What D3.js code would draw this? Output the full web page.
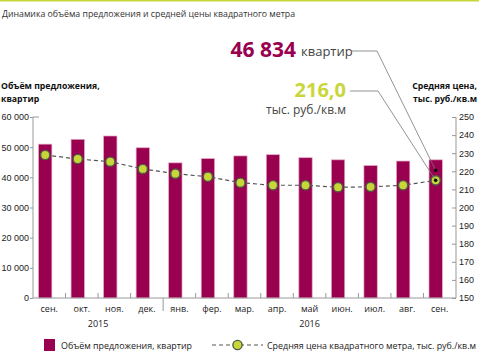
<!DOCTYPE html>
<html>
<head>
<meta charset="utf-8">
<script src="https://cdn.jsdelivr.net/npm/d3@7"></script>
<style>
  body { margin: 0; background: #fff; }
  svg { font-family: "Open Sans", "Noto Sans", sans-serif; }
</style>
</head>
<body>
<div id="graphic"></div>
<script>
// data
const months = ["сен.", "окт.", "ноя.", "дек.", "янв.", "фер.", "мар.", "апр.", "май", "июн.", "июл.", "авг.", "сен."];
const years = [{label: "2015", from: 0, to: 3}, {label: "2016", from: 4, to: 12}];
const supply = [51000, 52600, 53700, 49800, 44800, 46200, 47100, 47500, 46500, 45800, 43900, 45400, 45800];
const price = [229.0, 226.8, 225.3, 221.3, 218.7, 217.0, 213.7, 212.3, 212.3, 211.2, 211.4, 212.3, 215.0];
const leftTicks = [0, 10000, 20000, 30000, 40000, 50000, 60000];
const rightTicks = [150, 160, 170, 180, 190, 200, 210, 220, 230, 240, 250];

const W = 479, H = 352;
const barColor = "#990050";
const green = "#c8d639";
const fs = "9px";

const svg = d3.select("#graphic").append("svg")
    .attr("width", W)
    .attr("height", H);

// green rule at the top
svg.append("rect").attr("x", 0).attr("y", 0).attr("width", W).attr("height", 1.5).style("fill", green);

svg.append("text")
    .attr("x", 2).attr("y", 17)
    .attr("textLength", 293).attr("lengthAdjust", "spacingAndGlyphs")
    .style("font-size", "9px").style("fill", "#333")
    .text("Динамика объёма предложения и средней цены квадратного метра");

// scales
const x = d3.scaleBand()
    .domain(d3.range(months.length))
    .range([33, 456]);

const yL = d3.scaleLinear().domain([0, 60000]).range([298, 117]);
const yR = d3.scaleLinear().domain([150, 250]).range([298, 117]);

const step = x.step();
const barW = step * 0.41;
const barOff = step * 0.17;
const cx = i => x(i) + barOff + barW / 2;

// bars
svg.append("g").selectAll("rect")
    .data(supply)
    .join("rect")
    .attr("x", (d, i) => x(i) + barOff)
    .attr("y", d => yL(d))
    .attr("width", barW)
    .attr("height", d => yL(0) - yL(d))
    .style("fill", barColor)
    .style("stroke", "#e3a6c4")
    .style("stroke-width", 0.7);

// left axis
const fmt = d => d === 0 ? "0" : d3.format(",")(d).replace(",", " ");
const gL = svg.append("g")
    .attr("transform", "translate(33,0)")
    .call(d3.axisLeft(yL).tickValues(leftTicks).tickFormat(fmt).tickSize(3).tickPadding(1));
gL.select(".domain").remove();
gL.selectAll("line").style("stroke", "#999");
gL.selectAll("text").style("font-size", fs).style("fill", "#222").attr("font-family", null);
svg.append("line").attr("x1", 33).attr("x2", 33).attr("y1", 117).attr("y2", 298).style("stroke", "#999");
svg.append("line").attr("x1", 33).attr("x2", 39).attr("y1", 117).attr("y2", 117).style("stroke", "#999");

// right axis
const gR = svg.append("g")
    .attr("transform", "translate(456,0)")
    .call(d3.axisRight(yR).tickValues(rightTicks).tickSize(-4).tickPadding(3));
gR.select(".domain").remove();
gR.selectAll("line").style("stroke", "#999");
gR.selectAll("text").style("font-size", fs).style("fill", "#222").attr("font-family", null);
svg.append("line").attr("x1", 456).attr("x2", 456).attr("y1", 117).attr("y2", 298).style("stroke", "#999");

// bottom axis
svg.append("line").attr("x1", 33).attr("x2", 456).attr("y1", 298).attr("y2", 298).style("stroke", "#999");
svg.append("g").selectAll("line")
    .data(d3.range(1, months.length))
    .join("line")
    .attr("x1", i => x(i)).attr("x2", i => x(i))
    .attr("y1", i => i === 4 ? 298 : 293)
    .attr("y2", i => i === 4 ? 311 : 298)
    .style("stroke", "#999");

svg.append("g").selectAll("text")
    .data(months)
    .join("text")
    .attr("x", (d, i) => x(i) + step / 2)
    .attr("y", 312)
    .attr("text-anchor", "middle")
    .style("font-size", fs).style("fill", "#222")
    .text(d => d);

svg.append("g").selectAll("text")
    .data(years)
    .join("text")
    .attr("x", d => (x(d.from) + x(d.to) + step) / 2)
    .attr("y", 327)
    .attr("text-anchor", "middle")
    .style("font-size", fs).style("fill", "#222")
    .text(d => d.label);

// price line
const line = d3.line().x((d, i) => cx(i)).y(d => yR(d));
svg.append("path")
    .datum(price)
    .attr("d", line)
    .style("fill", "none")
    .style("stroke", "#555")
    .style("stroke-width", 1.2)
    .style("stroke-dasharray", "4,3");

svg.append("g").selectAll("circle")
    .data(price)
    .join("circle")
    .attr("cx", (d, i) => cx(i))
    .attr("cy", d => yR(d))
    .attr("r", 4.6)
    .style("fill", green)
    .style("stroke", "#4d5e45")
    .style("stroke-width", 1.4);

// axis titles
const titleL = svg.append("text").attr("x", 1).attr("y", 89)
    .style("font-size", "8.7px").style("font-weight", "bold").style("fill", "#111");
titleL.append("tspan").attr("x", 1).text("Объём предложения,");
titleL.append("tspan").attr("x", 1).attr("dy", 13).text("квартир");

const titleR = svg.append("text").attr("x", 477).attr("y", 89).attr("text-anchor", "end")
    .style("font-size", "8.7px").style("font-weight", "bold").style("fill", "#111");
titleR.append("tspan").attr("x", 477).text("Средняя цена,");
titleR.append("tspan").attr("x", 477).attr("dy", 13).text("тыс. руб./кв.м");

// callouts for the last month
const last = months.length - 1;
const lx = cx(last);

svg.append("text").attr("x", 296).attr("y", 57).attr("text-anchor", "end")
    .style("font-size", "21px").style("font-weight", "bold").style("fill", barColor)
    .text(d3.format(",")(46834).replace(",", " "));
svg.append("text").attr("x", 301).attr("y", 56)
    .style("font-size", "13px").style("fill", "#444")
    .text("квартир");
svg.append("polyline")
    .attr("points", [[351, 51], [377, 51], [lx, yR(220.5)]].join(" "))
    .style("fill", "none").style("stroke", "#777").style("stroke-width", 0.8);
svg.append("circle").attr("cx", lx).attr("cy", yR(220.5)).attr("r", 1.8).style("fill", "#111");

svg.append("text").attr("x", 346).attr("y", 97).attr("text-anchor", "end")
    .style("font-size", "20px").style("font-weight", "bold").style("fill", green)
    .text("216,0");
svg.append("text").attr("x", 346).attr("y", 114).attr("text-anchor", "end")
    .style("font-size", "12px").style("fill", "#444")
    .text("тыс. руб./кв.м");
svg.append("polyline")
    .attr("points", [[350, 91], [378, 91], [lx, yR(price[last])]].join(" "))
    .style("fill", "none").style("stroke", "#777").style("stroke-width", 0.8);
svg.append("circle").attr("cx", lx).attr("cy", yR(price[last])).attr("r", 1.8).style("fill", "#111");

// legend
const lg = svg.append("g");
lg.append("rect").attr("x", 44).attr("y", 339).attr("width", 11).attr("height", 12).style("fill", barColor);
lg.append("text").attr("x", 61).attr("y", 349)
    .attr("textLength", 131).attr("lengthAdjust", "spacingAndGlyphs")
    .style("font-size", fs).style("fill", "#222")
    .text("Объём предложения, квартир");
lg.append("line").attr("x1", 212).attr("x2", 263).attr("y1", 345).attr("y2", 345)
    .style("stroke", "#555").style("stroke-width", 1.2).style("stroke-dasharray", "4,3");
lg.append("circle").attr("cx", 237.5).attr("cy", 345).attr("r", 4.6)
    .style("fill", green).style("stroke", "#4d5e45").style("stroke-width", 1.4);
lg.append("text").attr("x", 267).attr("y", 349)
    .attr("textLength", 209).attr("lengthAdjust", "spacingAndGlyphs")
    .style("font-size", fs).style("fill", "#222")
    .text("Средняя цена квадратного метра, тыс. руб./кв.м");
</script>
</body>
</html>
